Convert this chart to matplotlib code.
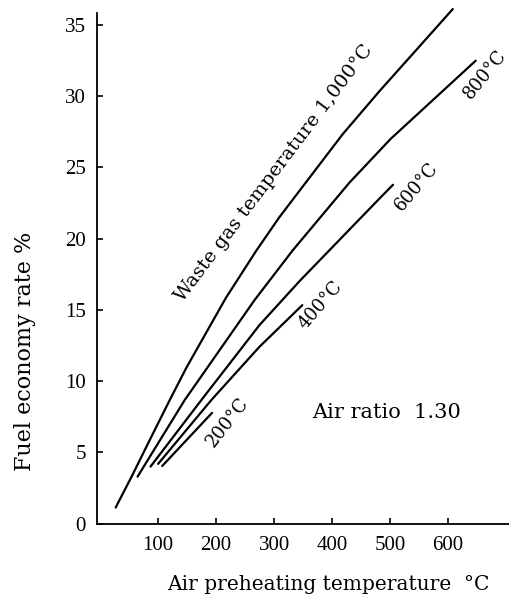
import numpy as np
import matplotlib
matplotlib.use('Agg')
import matplotlib.pyplot as plt

plt.rcParams['font.family'] = ['Liberation Serif', 'DejaVu Serif']

# Curves: air preheating temperature (C) vs fuel economy rate (%)
x_1000 = [26.8, 54.3, 91.4, 120.1, 148.8, 217, 269.6, 309.1, 417.9, 480.9, 608.1]
y_1000 = [1.14, 3.31, 6.35, 8.68, 10.95, 15.85, 19.17, 21.5, 27.3, 30.3, 36.09]
x_800 = [64.6, 145.9, 266.2, 332.0, 429.4, 501.0, 647.6]
y_800 = [3.31, 8.68, 15.68, 19.17, 23.9, 26.99, 32.47]
x_600 = [86.9, 174.6, 274.7, 343.5, 481.3, 505.0]
y_600 = [4.01, 8.68, 13.93, 17.0, 22.79, 23.77]
x_400 = [100.0, 191.8, 274.7, 348.6]
y_400 = [4.20, 8.68, 12.41, 15.33]
x_200 = [107, 193]
y_200 = [4.05, 7.78]

xticks = [100, 200, 300, 400, 500, 600]
yticks = [0, 5, 10, 15, 20, 25, 30, 35]

fig = plt.figure(figsize=(5.09, 6.0), dpi=100)
ax = fig.add_axes([0.191, 0.127, 0.809, 0.851])

for xs, ys in [(x_1000, y_1000), (x_800, y_800), (x_600, y_600),
               (x_400, y_400), (x_200, y_200)]:
    ax.plot(xs, ys, color='black', lw=1.6, clip_on=False,
            solid_capstyle='round', solid_joinstyle='round')

ax.set_xlim(-5, 705)
ax.set_ylim(0, 35.8)
ax.spines['top'].set_visible(False)
ax.spines['right'].set_visible(False)
ax.spines['left'].set_linewidth(1.3)
ax.spines['bottom'].set_linewidth(1.3)
ax.set_xticks(xticks)
ax.set_yticks(yticks)
ax.tick_params(direction='in', length=4, width=1.2, labelsize=15)
ax.tick_params(axis='x', pad=9)
ax.tick_params(axis='y', pad=8)

serif = ['DejaVu Serif']
ax.set_xlabel('Air preheating temperature  °C', fontsize=14.5, family=serif,
              va='center')
ax.xaxis.set_label_coords(0.562, -0.119)
ax.set_ylabel('Fuel economy rate %', fontsize=16, family=serif,
              va='center', ha='center')
ax.yaxis.set_label_coords(-0.175, 0.337)

tkw = dict(fontsize=13, family=serif, ha='center', va='center',
           rotation_mode='anchor', clip_on=False)
ax.text(300.5, 24.6, 'Waste gas temperature 1,000°C', rotation=53,
        **dict(tkw, fontsize=14))
ax.text(664, 31.5, '800°C', rotation=51, **tkw)
ax.text(546, 23.6, '600°C', rotation=50, **tkw)
ax.text(380, 15.3, '400°C', rotation=49, **tkw)
ax.text(220, 7.1, '200°C', rotation=52, **tkw)
ax.text(366, 7.77, 'Air ratio  1.30', fontsize=15, family=serif,
        ha='left', va='center')

plt.savefig('out.png', dpi=100)
plt.close()
